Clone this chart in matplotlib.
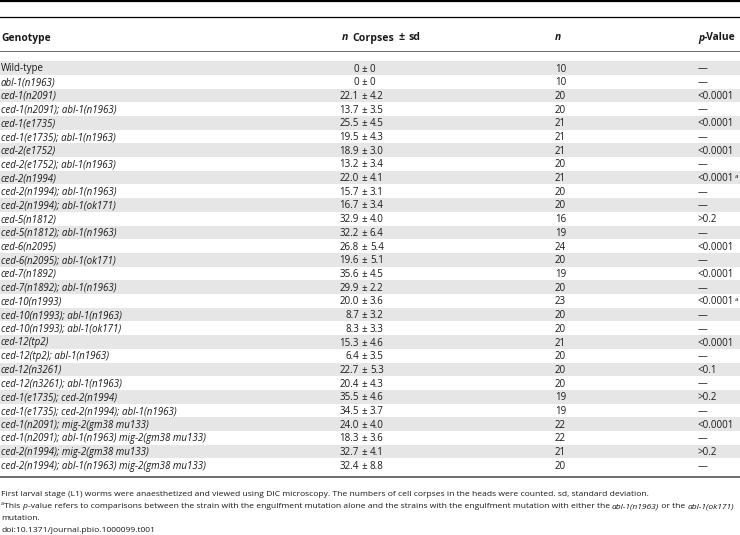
import matplotlib
matplotlib.use("Agg")
import matplotlib.pyplot as plt

# table contents
genotypes = [
    "Wild-type", "abl-1(n1963)", "ced-1(n2091)", "ced-1(n2091); abl-1(n1963)",
    "ced-1(e1735)", "ced-1(e1735); abl-1(n1963)", "ced-2(e1752)", "ced-2(e1752); abl-1(n1963)",
    "ced-2(n1994)", "ced-2(n1994); abl-1(n1963)", "ced-2(n1994); abl-1(ok171)", "ced-5(n1812)",
    "ced-5(n1812); abl-1(n1963)", "ced-6(n2095)", "ced-6(n2095); abl-1(ok171)", "ced-7(n1892)",
    "ced-7(n1892); abl-1(n1963)", "ced-10(n1993)", "ced-10(n1993); abl-1(n1963)",
    "ced-10(n1993); abl-1(ok171)", "ced-12(tp2)", "ced-12(tp2); abl-1(n1963)", "ced-12(n3261)",
    "ced-12(n3261); abl-1(n1963)", "ced-1(e1735); ced-2(n1994)",
    "ced-1(e1735); ced-2(n1994); abl-1(n1963)", "ced-1(n2091); mig-2(gm38 mu133)",
    "ced-1(n2091); abl-1(n1963) mig-2(gm38 mu133)", "ced-2(n1994); mig-2(gm38 mu133)",
    "ced-2(n1994); abl-1(n1963) mig-2(gm38 mu133)",
]
corpses_mean = ["0", "0", "22.1", "13.7", "25.5", "19.5", "18.9", "13.2", "22.0", "15.7",
                "16.7", "32.9", "32.2", "26.8", "19.6", "35.6", "29.9", "20.0", "8.7", "8.3",
                "15.3", "6.4", "22.7", "20.4", "35.5", "34.5", "24.0", "18.3", "32.7", "32.4"]
corpses_sd = ["0", "0", "4.2", "3.5", "4.5", "4.3", "3.0", "3.4", "4.1", "3.1",
              "3.4", "4.0", "6.4", "5.4", "5.1", "4.5", "2.2", "3.6", "3.2", "3.3",
              "4.6", "3.5", "5.3", "4.3", "4.6", "3.7", "4.0", "3.6", "4.1", "8.8"]
n_worms = ["10", "10", "20", "20", "21", "21", "21", "20", "21", "20",
           "20", "16", "19", "24", "20", "19", "20", "23", "20", "20",
           "21", "20", "20", "20", "19", "19", "22", "22", "21", "20"]
p_values = ["\u2014", "\u2014", "<0.0001", "\u2014", "<0.0001", "\u2014", "<0.0001", "\u2014",
            "<0.0001a", "\u2014", "\u2014", ">0.2", "\u2014", "<0.0001", "\u2014", "<0.0001",
            "\u2014", "<0.0001a", "\u2014", "\u2014", "<0.0001", "\u2014", "<0.1", "\u2014",
            ">0.2", "\u2014", "<0.0001", "\u2014", ">0.2", "\u2014"]

FAM = ["Liberation Sans Narrow", "Open Sans", "DejaVu Sans"]
FS = 7.0       # table body
FS_NOTE = 6.1  # footnotes
INK = "#1a1a1a"
BASE = 3.5     # from the middle of a row to the text baseline, px

fig = plt.figure(figsize=(7.4, 5.35), dpi=100)
ax = fig.add_axes([0, 0, 1, 1])
ax.set_xlim(0, 740)
ax.set_ylim(535, 0)
ax.axis("off")
renderer = fig.canvas.get_renderer()


def txt(x, y, s, size=FS, ha="left", **kw):
    # one piece of text, y is the middle of the line
    return ax.text(x, y + BASE, s, fontsize=size, family=FAM, color=INK,
                   va="baseline", ha=ha, **kw)


def runs(x, y, parts, size=FS):
    # draw a line made of pieces in different styles, one after the other
    # a number in parts is a gap in pixels
    for part in parts:
        if isinstance(part, (int, float)):
            x += part
            continue
        s, style = part
        kw = {}
        if "i" in style:
            kw["style"] = "italic"
        if "b" in style:
            kw["weight"] = "bold"
        if "sup" in style:
            t = txt(x, y - 3.5, s, size=size * 0.65, **kw)
        else:
            t = txt(x, y, s, size=size, **kw)
        x = t.get_window_extent(renderer).x1
    return x


# rules
ax.axhline(1, color="black", lw=1.6)
ax.axhline(17, color="black", lw=0.9)
ax.axhline(51, color="#555555", lw=0.6)
ax.axhline(477, color="#555555", lw=1.2)

# header
runs(1, 37, [("Genotype", "b")], size=7.4)
runs(342, 37, [("n", "bi"), 4, ("Corpses", "b"), 4, ("\u00b1", "b"), 4, ("sd", "b")], size=7.6)
runs(555, 37, [("n", "bi")], size=7.4)
runs(698, 37, [("p", "bi"), ("-Value", "b")], size=7.4)

# rows
row0, step = 68, 13.7
ys = [row0 + i * step for i in range(len(genotypes))]
ax.barh(ys[::2], 740, height=step, left=0, color="#e6e6e6", zorder=0)

for y, g, m, sd, n, p in zip(ys, genotypes, corpses_mean, corpses_sd, n_worms, p_values):
    runs(1, y, [(g, "" if g == "Wild-type" else "i")])
    txt(359, y, m, ha="right")
    txt(364.5, y, "\u00b1", ha="center")
    txt(370, y, sd)
    txt(555, y, n)
    if p.endswith("a"):
        runs(698, y, [(p[:-1], ""), ("a", "sup")])
    else:
        runs(698, y, [(p, "")])

# footnotes
runs(1, 493, [("First larval stage (L1) worms were anaesthetized and viewed using DIC microscopy. "
               "The numbers of cell corpses in the heads were counted. sd, standard deviation.", "")],
     size=FS_NOTE)
runs(1, 505, [("a", "sup"), ("This ", ""), ("p", "i"),
              ("-value refers to comparisons between the strain with the engulfment mutation alone "
               "and the strains with the engulfment mutation with either the ", ""),
              ("abl-1(n1963)", "i"), (" or the ", ""), ("abl-1(ok171)", "i")], size=FS_NOTE)
runs(1, 517, [("mutation.", "")], size=FS_NOTE)
runs(1, 529, [("doi:10.1371/journal.pbio.1000099.t001", "")], size=FS_NOTE)

fig.savefig("out.png", dpi=100)
